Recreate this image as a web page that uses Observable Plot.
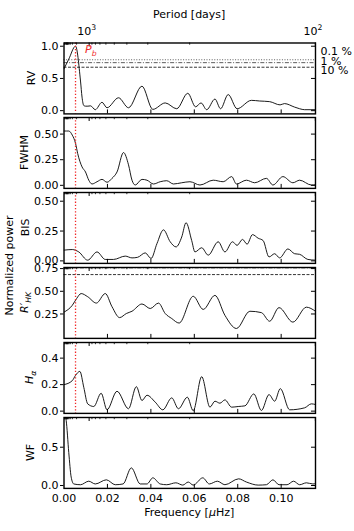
<!DOCTYPE html>
<html><head><meta charset="utf-8">
<script src="https://cdn.jsdelivr.net/npm/d3@7"></script>
<script src="https://cdn.jsdelivr.net/npm/@observablehq/plot@0.6"></script>
<style>
body{margin:0;background:#fff;}
#chart{position:relative;width:354px;height:531px;font-family:"DejaVu Sans",sans-serif;overflow:hidden;background:#fff;}
#chart svg{position:absolute;left:0;}
.ylab{position:absolute;width:200px;text-align:center;font-size:11px;line-height:13px;transform:rotate(-90deg);font-family:"DejaVu Sans",sans-serif;}
</style></head><body><div id="chart"></div>
<script>
// ---------------- data ----------------
const xDomain = [0, 0.1158];
const freqTicks = [0.02, 0.04, 0.06, 0.08, 0.10];
const freqLabelTicks = [0, 0.02, 0.04, 0.06, 0.08, 0.10];
const periodMajor = [1000, 100];
const periodMajorLabels = ["3", "2"];
const periodMinor = [40000, 30000, 20000, 10000, 9000, 8000, 7000, 6000, 5000, 4000, 3000, 2000, 900, 800, 700, 600, 500, 400, 300, 200];
const planetFreq = 0.0053;

const rvFreq = [0, 0.0022, 0.0053, 0.0076, 0.0083, 0.0091, 0.0099, 0.0110, 0.0122, 0.0144, 0.0175, 0.0198, 0.0251, 0.0297, 0.0359, 0.0409, 0.0466, 0.0519, 0.0570, 0.0606, 0.0631, 0.0657, 0.0695, 0.0721, 0.0756, 0.0797, 0.0863, 0.0901, 0.0947, 0.0995, 0.1015, 0.1062, 0.1085, 0.1108, 0.1158];
const rvPower = [0.65, 0.80, 1.00, 0.46, 0.21, 0.08, 0.07, 0.07, 0.075, 0.015, 0.13, 0.045, 0.20, 0.045, 0.38, 0.02, 0.12, 0.03, 0.27, 0.06, 0.12, 0.015, 0.18, 0.03, 0.25, 0.03, 0.16, 0.15, 0.14, 0.09, 0.11, 0.055, 0.03, 0.015, 0.015];
const rvFap = [0.79, 0.745, 0.674];
const rvFapLabels = ["0.1 %", "1 %", "10 %"];

const fwhmFreq = [0, 0.0022, 0.0038, 0.0053, 0.0063, 0.0083, 0.0099, 0.0114, 0.0129, 0.0152, 0.0175, 0.0198, 0.0221, 0.0244, 0.0274, 0.0297, 0.0313, 0.0328, 0.0359, 0.0382, 0.0412, 0.0443, 0.0473, 0.0504, 0.0542, 0.0580, 0.0626, 0.0687, 0.0733, 0.0772, 0.0794, 0.0840, 0.0878, 0.0932, 0.0962, 0.1008, 0.1054, 0.1085, 0.1139, 0.1158];
const fwhmPower = [0.53, 0.53, 0.49, 0.41, 0.31, 0.18, 0.13, 0.05, 0.013, 0.035, 0.058, 0.03, 0.068, 0.13, 0.32, 0.20, 0.05, 0.003, 0.058, 0.05, 0.013, 0.035, 0.045, 0.013, 0.025, 0.035, 0.003, 0.05, 0.035, 0.085, 0.013, 0.05, 0.025, 0.068, 0.003, 0.085, 0.025, 0.05, 0.003, 0.005];

const bisFreq = [0, 0.0038, 0.0068, 0.0109, 0.0152, 0.0190, 0.0228, 0.0282, 0.0313, 0.0339, 0.0374, 0.0401, 0.0428, 0.0458, 0.0489, 0.0516, 0.0542, 0.0562, 0.0588, 0.0603, 0.0634, 0.0664, 0.0710, 0.0741, 0.0776, 0.0797, 0.0822, 0.0843, 0.0868, 0.0894, 0.0917, 0.0944, 0.0970, 0.0993, 0.1031, 0.1062, 0.1085, 0.1123, 0.1158];
const bisPower = [0.09, 0.095, 0.075, 0.006, 0.075, 0.012, 0.012, 0.04, 0.025, 0.03, 0.067, 0.02, 0.145, 0.26, 0.16, 0.117, 0.20, 0.32, 0.17, 0.075, 0.11, 0.048, 0.16, 0.075, 0.16, 0.13, 0.18, 0.14, 0.22, 0.19, 0.17, 0.033, 0.06, 0.025, 0.10, 0.06, 0.055, 0.012, 0.006];

const rhkFreq = [0, 0.0038, 0.0058, 0.0079, 0.0109, 0.0149, 0.0190, 0.0221, 0.0256, 0.0287, 0.0313, 0.0359, 0.0397, 0.0435, 0.0466, 0.0496, 0.0530, 0.0595, 0.0641, 0.0695, 0.0741, 0.0794, 0.0856, 0.0909, 0.0947, 0.0990, 0.1054, 0.1116, 0.1158];
const rhkPower = [0.27, 0.345, 0.42, 0.475, 0.44, 0.37, 0.475, 0.33, 0.21, 0.255, 0.28, 0.36, 0.31, 0.37, 0.255, 0.20, 0.15, 0.445, 0.30, 0.455, 0.235, 0.09, 0.28, 0.265, 0.17, 0.32, 0.16, 0.325, 0.28];
const rhkFap = [0.757, 0.684];

const haFreq = [0, 0.0038, 0.0053, 0.0073, 0.0091, 0.0109, 0.0137, 0.0171, 0.0198, 0.0244, 0.0297, 0.0333, 0.0359, 0.0382, 0.0420, 0.0455, 0.0496, 0.0527, 0.0568, 0.0595, 0.0634, 0.0672, 0.0695, 0.0718, 0.0741, 0.0772, 0.0802, 0.0833, 0.0874, 0.0909, 0.0944, 0.0970, 0.0996, 0.1039, 0.1108, 0.1139, 0.1158];
const haPower = [0.20, 0.23, 0.27, 0.30, 0.18, 0.055, 0.035, 0.135, 0.01, 0.15, 0.018, 0.185, 0.08, 0.12, 0.068, 0.01, 0.10, 0.018, 0.105, 0.003, 0.26, 0.03, 0.075, 0.06, 0.085, 0.03, 0.035, 0.04, 0.13, 0.005, 0.125, 0.075, 0.17, 0.01, 0.025, 0.055, 0.05];

const wfFreq = [0, 0.0010, 0.0022, 0.0033, 0.0045, 0.0076, 0.0114, 0.0144, 0.0195, 0.0236, 0.0272, 0.0310, 0.0351, 0.0382, 0.0409, 0.0443, 0.0473, 0.0515, 0.0547, 0.0572, 0.0595, 0.0639, 0.0669, 0.0706, 0.0741, 0.0804, 0.0840, 0.0894, 0.0932, 0.0962, 0.0990, 0.1027, 0.1057, 0.1085, 0.1116, 0.1146, 0.1158];
const wfPower = [0.95, 0.85, 0.43, 0.11, 0.02, 0.01, 0.056, 0.02, 0.074, 0.01, 0.02, 0.23, 0.02, 0.02, 0.10, 0.02, 0.01, 0.035, 0.005, 0.045, 0.005, 0.10, 0.02, 0.056, 0.01, 0.087, 0.045, 0.005, 0.01, 0.074, 0.01, 0.01, 0.056, 0.01, 0.035, 0.02, 0.025];

const panelDomains = [[-0.05, 1.05], [-0.03, 0.662], [-0.021, 0.573], [-0.019, 0.762], [-0.017, 0.518], [-0.038, 0.888]];
const panelTicks = [[0, 0.5, 1.0], [0, 0.25, 0.5], [0, 0.25, 0.5], [0.25, 0.5, 0.75], [0, 0.2, 0.4], [0, 0.5]];
const panelTickFormats = [".1f", ".2f", ".2f", ".2f", ".1f", ".1f"];

// ---------------- layout ----------------
const W = 354, H = 531;
const ML = 63.5, MR = W - 315;
const top0 = 42.5, step = 74.9, PH = 70.9;
const plotW = W - ML - MR;
const FONT = "DejaVu Sans";
const RED = "#f02828";
const toF = P => 1e6 / (86400 * P);

const series = [[rvFreq, rvPower], [fwhmFreq, fwhmPower], [bisFreq, bisPower], [rhkFreq, rhkPower], [haFreq, haPower], [wfFreq, wfPower]];
const labelParts = [
  [{t: "RV"}],
  [{t: "FWHM"}],
  [{t: "BIS"}],
  [{t: "R", i: 1}, {t: "\u2032"}, {t: "HK", i: 1, sub: 1}],
  [{t: "H", i: 1}, {t: "\u03b1", i: 1, sub: 1}],
  [{t: "WF"}]
];
const labelX = [34.5, 27.5, 28.5, 27.5, 33, 34];

function rich(sel, parts, size) {
  let prev = 0;
  parts.forEach(p => {
    const ts = sel.append("tspan").text(p.t);
    if (p.i) ts.attr("font-style", "italic");
    const off = p.sub ? 3 : (p.sup ? -4.5 : 0);
    if (p.sub || p.sup) ts.attr("font-size", size * 0.7);
    if (off !== prev) ts.attr("dy", off - prev);
    prev = off;
  });
}

const chart = document.getElementById("chart");

series.forEach(([fr, pw], i) => {
  const top = top0 + i * step;
  const first = i === 0, last = i === series.length - 1;
  const svgTop = first ? 0 : top - 2;
  const mt = first ? top : 2;
  const svgBottom = last ? H : top + PH + 2;
  const mb = last ? H - (top + PH) : 2;
  const h = svgBottom - svgTop;
  const dom = panelDomains[i];
  const ticks = panelTicks[i];
  const marks = [];
  if (i === 0) {
    marks.push(Plot.ruleY([rvFap[0]], {stroke: "#333", strokeWidth: 0.8, strokeDasharray: "1,1.6"}));
    marks.push(Plot.ruleY([rvFap[1]], {stroke: "#333", strokeWidth: 0.8, strokeDasharray: "4,1.6,1,1.6"}));
    marks.push(Plot.ruleY([rvFap[2]], {stroke: "#000", strokeWidth: 0.8, strokeDasharray: "3,1.5"}));
  }
  if (i === 3) {
    marks.push(Plot.ruleY([rhkFap[0]], {stroke: "#555", strokeWidth: 0.8, strokeDasharray: "4,1.6,1,1.6"}));
    marks.push(Plot.ruleY([rhkFap[1]], {stroke: "#000", strokeWidth: 0.8, strokeDasharray: "3,1.5"}));
  }
  marks.push(Plot.line(pw, {x: fr, y: pw, stroke: "#000", strokeWidth: 0.9, curve: "monotone-x", clip: true}));
  if (i < 5) {
    marks.push(Plot.ruleX([planetFreq], {stroke: RED, strokeWidth: 1.3, strokeDasharray: "1.3,1.9"}));
  }
  // ticks
  marks.push(Plot.tickX(freqTicks, {x: d => d, insetTop: PH - 4, stroke: "#000", strokeWidth: 1}));
  marks.push(Plot.tickX(periodMajor.map(toF), {x: d => d, insetBottom: PH - 4, stroke: "#000", strokeWidth: 1}));
  marks.push(Plot.tickX(periodMinor.map(toF), {x: d => d, insetBottom: PH - 2.2, stroke: "#000", strokeWidth: 0.8}));
  marks.push(Plot.tickY(ticks, {y: d => d, insetLeft: plotW - 4, stroke: "#000", strokeWidth: 1}));
  marks.push(Plot.axisY({ticks, tickSize: 3.5, tickPadding: 2, tickFormat: d3.format(panelTickFormats[i]), label: null, fontSize: 11}));
  if (last) {
    marks.push(Plot.axisX({ticks: freqLabelTicks, tickSize: 0, tickPadding: 5.5, tickFormat: d3.format(".2f"), label: null, fontSize: 11}));
  }
  marks.push(Plot.frame({stroke: "#000", strokeWidth: 1.4}));

  const svg = Plot.plot({
    width: W, height: h,
    marginLeft: ML, marginRight: MR, marginTop: mt, marginBottom: mb,
    style: {fontFamily: FONT, fontSize: "11px", background: "transparent", overflow: "visible"},
    x: {domain: xDomain, axis: null},
    y: {domain: dom, axis: null},
    marks
  });
  svg.style.top = svgTop + "px";
  chart.appendChild(svg);

  const s = d3.select(svg);
  const xs = svg.scale("x");
  const ly = (top - svgTop) + PH / 2;
  const t = s.append("text")
    .attr("transform", `translate(${labelX[i]},${ly}) rotate(-90)`)
    .attr("text-anchor", "middle").attr("font-size", 11).attr("font-family", FONT).attr("fill", "#000");
  rich(t, labelParts[i], 11);

  if (first) {
    s.append("text").attr("x", (ML + W - MR) / 2).attr("y", 18.5).attr("text-anchor", "middle")
      .attr("font-size", 11).attr("font-family", FONT).text("Period [days]");
    periodMajor.forEach((P, k) => {
      const tt = s.append("text").attr("x", xs.apply(toF(P)) - 2).attr("y", 34.7).attr("text-anchor", "middle")
        .attr("font-size", 11).attr("font-family", FONT);
      rich(tt, [{t: "10"}, {t: periodMajorLabels[k], sup: 1}], 11);
    });
    rvFap.forEach((v, k) => {
      s.append("text").attr("x", 320.5).attr("y", [55.3, 65, 74.5][k]).attr("text-anchor", "start")
        .attr("font-size", 11).attr("font-family", FONT).text(rvFapLabels[k]);
    });
    const pb = s.append("text").attr("x", xs.apply(planetFreq) + 10).attr("y", 53).attr("text-anchor", "start")
      .attr("font-size", 11).attr("font-family", FONT).attr("fill", RED);
    rich(pb, [{t: "P", i: 1}, {t: "b", i: 1, sub: 1}], 11);
  }
  if (last) {
    const ft = s.append("text").attr("x", (ML + W - MR) / 2).attr("y", 516 - svgTop).attr("text-anchor", "middle")
      .attr("font-size", 11).attr("font-family", FONT);
    rich(ft, [{t: "Frequency ["}, {t: "\u03bc", i: 1}, {t: "Hz]"}], 11);
  }
});

const np = document.createElement("div");
np.className = "ylab";
np.textContent = "Normalized power";
np.style.left = (9 - 100) + "px";
np.style.top = (265.2 - 6.5) + "px";
chart.appendChild(np);
</script>
</body></html>
